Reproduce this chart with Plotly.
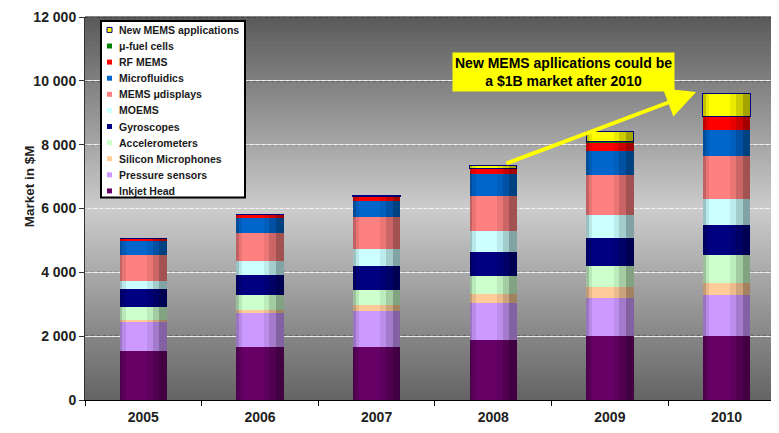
import plotly.graph_objects as go

years = ["2005", "2006", "2007", "2008", "2009", "2010"]

inkjet_head = [1535, 1670, 1670, 1885, 2020, 2000]
pressure_sensors = [910, 1055, 1130, 1150, 1170, 1275]
silicon_microphones = [60, 85, 165, 290, 340, 385]
accelerometers = [415, 465, 485, 560, 665, 880]
gyroscopes = [550, 640, 745, 755, 890, 930]
moems = [270, 455, 530, 640, 715, 830]
mems_displays = [800, 870, 1005, 1120, 1255, 1345]
microfluidics = [435, 455, 520, 675, 745, 830]
rf_mems = [100, 115, 135, 175, 280, 395]
fuel_cells = [0, 0, 0, 5, 10, 15]
new_mems = [0, 0, 15, 80, 310, 725]

series_names = ["Inkjet Head", "Pressure sensors", "Silicon Microphones", "Accelerometers",
                "Gyroscopes", "MOEMS", "MEMS \u03bcdisplays", "Microfluidics", "RF MEMS",
                "\u03bc-fuel cells", "New MEMS applications"]
series_values = [inkjet_head, pressure_sensors, silicon_microphones, accelerometers,
                 gyroscopes, moems, mems_displays, microfluidics, rf_mems, fuel_cells, new_mems]
series_colors = ["#660066", "#cc99ff", "#ffcc99", "#ccffcc", "#000080", "#ccffff",
                 "#ff8080", "#0066cc", "#ff0000", "#008000", "#ffff00"]

y_ticks = [0, 2000, 4000, 6000, 8000, 10000, 12000]
y_ticktext = ["0", "2 000", "4 000", "6 000", "8 000", "10 000", "12 000"]

FONT = "Liberation Sans, Arial, sans-serif"
BAR_W = 0.407

# page geometry (the page body has an 8px margin on every side)
BODY = 8
PAGE_W, PAGE_H = 779, 433
PL, PR, PT, PB = 85, PAGE_W - BODY, 17, 403   # plot area in page pixels
UNIT = 116.64                                  # pixels per category
X_RANGE = [-0.5, -0.5 + (PR - PL) / UNIT]


def px(X):
    return (X - PL) / float(PR - PL)


def py(Y):
    return (PB - Y) / float(PB - PT)


fig = go.Figure()

for name, vals, col in zip(series_names, series_values, series_colors):
    is_new = name.startswith("New")
    fig.add_trace(go.Bar(
        x=years, y=vals, name=name, showlegend=False,
        marker=dict(color=col,
                    line=dict(color="#000080" if is_new else col, width=1 if is_new else 0)),
        width=BAR_W, hoverinfo="skip",
    ))

# cylinder shading strips on overlay axes
totals = [sum(v[i] for v in series_values) for i in range(len(years))]
strips = [(0.0, 0.06, 0.24), (0.06, 0.13, 0.09), (0.58, 0.70, 0.08),
          (0.70, 0.84, 0.2), (0.84, 1.0, 0.36)]
for k, (f0, f1, a) in enumerate(strips):
    ax_name = "x%d" % (k + 2)
    fig.add_trace(go.Bar(
        x=years, y=totals, xaxis=ax_name, yaxis="y",
        width=BAR_W * (f1 - f0), offset=-BAR_W / 2 + BAR_W * f0,
        marker=dict(color="rgba(0,0,0,%.2f)" % a, line=dict(width=0)),
        showlegend=False, hoverinfo="skip",
    ))
    fig.layout["xaxis%d" % (k + 2)] = dict(overlaying="x", visible=False, range=X_RANGE,
                                           type="category", categoryarray=years)

# background gradient
def lerp(c1, c2, t):
    return tuple(int(round(c1[i] + (c2[i] - c1[i]) * t)) for i in range(3))

stops = [(0.0, (100, 100, 100)), (0.5, (204, 204, 204)), (1.0, (90, 90, 90))]
shapes = []
N = 80
for i in range(N):
    t = (i + 0.5) / N
    for j in range(len(stops) - 1):
        if stops[j][0] <= t <= stops[j + 1][0]:
            tt = (t - stops[j][0]) / (stops[j + 1][0] - stops[j][0])
            c = lerp(stops[j][1], stops[j + 1][1], tt)
            break
    shapes.append(dict(type="rect", xref="paper", yref="paper", x0=0, x1=1,
                       y0=i / N, y1=(i + 1) / N + 0.002, layer="below",
                       line=dict(width=0), fillcolor="rgb(%d,%d,%d)" % c))
for v in y_ticks[1:]:
    shapes.append(dict(type="line", xref="paper", yref="y", x0=0, x1=1, y0=v, y1=v,
                       layer="between", line=dict(color="#202020", width=1, dash="dot")))

annotations = [
    dict(x=3.6, y=10290, xref="x", yref="y", showarrow=False,
         text="<b>New MEMS apllications could be<br>a $1B market after 2010</b>",
         font=dict(family=FONT, size=14, color="#000000"),
         bgcolor="#ffff00", borderpad=2),
    dict(x=5 - 0.26, y=totals[5] + 40, xref="x", yref="y",
         ax=3 + 0.1, ay=totals[3] + 60, axref="x", ayref="y",
         text="", showarrow=True, arrowhead=2, arrowsize=1.5, arrowwidth=4,
         arrowcolor="#ffff00"),
    dict(x=px(20), y=py(188), xref="paper", yref="paper", showarrow=False,
         text="<b>Market in $M</b>", textangle=-90,
         font=dict(family=FONT, size=13.5, color="#222222")),
]

# hand-built legend (box, small square keys, labels)
LEG_X0, LEG_X1, LEG_Y0, LEG_Y1 = 101, 245, 21, 199
ROW0, ROW_DY = 30.0, 16.23
shapes.append(dict(type="rect", xref="paper", yref="paper",
                   x0=px(LEG_X0), x1=px(LEG_X1), y0=py(LEG_Y1), y1=py(LEG_Y0),
                   layer="above", fillcolor="white", line=dict(color="black", width=2)))
for r, (name, col) in enumerate(zip(series_names[::-1], series_colors[::-1])):
    yc = ROW0 + r * ROW_DY
    is_new = name.startswith("New")
    shapes.append(dict(type="rect", xref="paper", yref="paper",
                       x0=px(107), x1=px(112), y0=py(yc + 2.5), y1=py(yc - 2.5),
                       layer="above", fillcolor=col,
                       line=dict(color="#000080" if is_new else col, width=1 if is_new else 0)))
    annotations.append(dict(x=px(116.5), y=py(yc), xref="paper", yref="paper",
                            xanchor="left", yanchor="middle", showarrow=False,
                            text="<b>%s</b>" % name,
                            font=dict(family=FONT, size=10.5, color="#1a1a1a")))

FIG_W, FIG_H = PAGE_W - 2 * BODY, PAGE_H - 2 * BODY
fig.update_layout(
    width=FIG_W, height=FIG_H,
    margin=dict(l=PL - BODY, r=FIG_W - (PR - BODY), t=PT - BODY, b=FIG_H - (PB - BODY)),
    paper_bgcolor="white", plot_bgcolor="rgba(0,0,0,0)",
    barmode="stack", bargap=1 - BAR_W,
    font=dict(family=FONT, color="#222222"),
    showlegend=False,
    xaxis=dict(type="category", categoryarray=years, range=X_RANGE,
               showline=True, linecolor="black", linewidth=1,
               ticks="outside", tickson="boundaries", ticklen=5, tickcolor="black",
               showgrid=False, ticklabelstandoff=4,
               tickfont=dict(family=FONT, size=14, color="#222222", weight="bold")),
    yaxis=dict(range=[0, 12000], tickvals=y_ticks, ticktext=y_ticktext,
               showline=True, linecolor="#333333", linewidth=1,
               ticks="outside", ticklen=5, tickcolor="#333333",
               showgrid=True, gridcolor="rgba(255,255,255,0.85)", gridwidth=1,
               zeroline=False,
               tickfont=dict(family=FONT, size=14, color="#222222", weight="bold")),
    shapes=shapes, annotations=annotations,
    hovermode=False,
)

fig.write_html("out.html")
